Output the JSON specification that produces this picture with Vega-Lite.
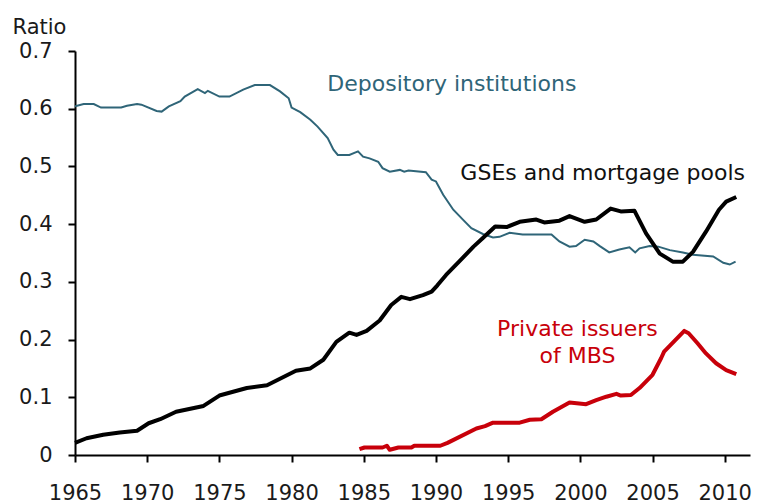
{
  "$schema": "https://vega.github.io/schema/vega-lite/v6.json",
  "width": 675,
  "height": 404,
  "autosize": {"type": "none"},
  "padding": {"left": 75, "top": 51, "right": 20, "bottom": 49},
  "background": "white",
  "config": {
    "view": {"stroke": null},
    "font": "DejaVu Sans",
    "axis": {
      "grid": false,
      "domainColor": "black",
      "domainWidth": 2,
      "tickColor": "black",
      "tickWidth": 2,
      "tickSize": 7,
      "labelFont": "DejaVu Sans",
      "labelFontSize": 21,
      "labelColor": "#1a1a1a"
    }
  },
  "datasets": {
    "lines": [
      {"s": "dep", "year": 1965.0, "value": 0.604},
      {"s": "dep", "year": 1965.6, "value": 0.608},
      {"s": "dep", "year": 1966.3, "value": 0.608},
      {"s": "dep", "year": 1966.8, "value": 0.602},
      {"s": "dep", "year": 1968.2, "value": 0.602},
      {"s": "dep", "year": 1968.6, "value": 0.605},
      {"s": "dep", "year": 1969.3, "value": 0.608},
      {"s": "dep", "year": 1969.6, "value": 0.607},
      {"s": "dep", "year": 1970.65, "value": 0.596},
      {"s": "dep", "year": 1971.0, "value": 0.595},
      {"s": "dep", "year": 1971.5, "value": 0.604},
      {"s": "dep", "year": 1972.3, "value": 0.613},
      {"s": "dep", "year": 1972.6, "value": 0.621},
      {"s": "dep", "year": 1973.5, "value": 0.634},
      {"s": "dep", "year": 1974.0, "value": 0.627},
      {"s": "dep", "year": 1974.2, "value": 0.631},
      {"s": "dep", "year": 1975.0, "value": 0.621},
      {"s": "dep", "year": 1975.7, "value": 0.621},
      {"s": "dep", "year": 1976.65, "value": 0.633},
      {"s": "dep", "year": 1977.45, "value": 0.641},
      {"s": "dep", "year": 1978.5, "value": 0.641},
      {"s": "dep", "year": 1979.2, "value": 0.63},
      {"s": "dep", "year": 1979.8, "value": 0.618},
      {"s": "dep", "year": 1980.0, "value": 0.602},
      {"s": "dep", "year": 1980.6, "value": 0.594},
      {"s": "dep", "year": 1981.3, "value": 0.581},
      {"s": "dep", "year": 1981.8, "value": 0.569},
      {"s": "dep", "year": 1982.5, "value": 0.549},
      {"s": "dep", "year": 1982.9, "value": 0.529},
      {"s": "dep", "year": 1983.2, "value": 0.52},
      {"s": "dep", "year": 1984.0, "value": 0.52},
      {"s": "dep", "year": 1984.6, "value": 0.526},
      {"s": "dep", "year": 1984.95, "value": 0.517},
      {"s": "dep", "year": 1985.4, "value": 0.514},
      {"s": "dep", "year": 1986.0, "value": 0.508},
      {"s": "dep", "year": 1986.3, "value": 0.497},
      {"s": "dep", "year": 1986.8, "value": 0.491},
      {"s": "dep", "year": 1987.5, "value": 0.494},
      {"s": "dep", "year": 1987.8, "value": 0.491},
      {"s": "dep", "year": 1988.1, "value": 0.493},
      {"s": "dep", "year": 1989.3, "value": 0.49},
      {"s": "dep", "year": 1989.7, "value": 0.477},
      {"s": "dep", "year": 1990.0, "value": 0.474},
      {"s": "dep", "year": 1990.5, "value": 0.451},
      {"s": "dep", "year": 1991.2, "value": 0.425},
      {"s": "dep", "year": 1991.9, "value": 0.407},
      {"s": "dep", "year": 1992.45, "value": 0.393},
      {"s": "dep", "year": 1993.25, "value": 0.383},
      {"s": "dep", "year": 1993.95, "value": 0.377},
      {"s": "dep", "year": 1994.4, "value": 0.378},
      {"s": "dep", "year": 1995.1, "value": 0.385},
      {"s": "dep", "year": 1996.0, "value": 0.382},
      {"s": "dep", "year": 1998.0, "value": 0.382},
      {"s": "dep", "year": 1998.55, "value": 0.37},
      {"s": "dep", "year": 1999.25, "value": 0.361},
      {"s": "dep", "year": 1999.7, "value": 0.362},
      {"s": "dep", "year": 2000.3, "value": 0.373},
      {"s": "dep", "year": 2000.9, "value": 0.37},
      {"s": "dep", "year": 2001.35, "value": 0.362},
      {"s": "dep", "year": 2002.0, "value": 0.351},
      {"s": "dep", "year": 2002.7, "value": 0.356},
      {"s": "dep", "year": 2003.4, "value": 0.36},
      {"s": "dep", "year": 2003.8, "value": 0.351},
      {"s": "dep", "year": 2004.1, "value": 0.358},
      {"s": "dep", "year": 2004.8, "value": 0.362},
      {"s": "dep", "year": 2005.4, "value": 0.361},
      {"s": "dep", "year": 2006.2, "value": 0.355},
      {"s": "dep", "year": 2007.1, "value": 0.351},
      {"s": "dep", "year": 2007.8, "value": 0.347},
      {"s": "dep", "year": 2009.2, "value": 0.344},
      {"s": "dep", "year": 2009.9, "value": 0.333},
      {"s": "dep", "year": 2010.35, "value": 0.33},
      {"s": "dep", "year": 2010.75, "value": 0.335},

      {"s": "gse", "year": 1965.0, "value": 0.021},
      {"s": "gse", "year": 1965.8, "value": 0.029},
      {"s": "gse", "year": 1966.95, "value": 0.035},
      {"s": "gse", "year": 1968.1, "value": 0.039},
      {"s": "gse", "year": 1969.3, "value": 0.042},
      {"s": "gse", "year": 1970.1, "value": 0.055},
      {"s": "gse", "year": 1970.9, "value": 0.062},
      {"s": "gse", "year": 1972.0, "value": 0.075},
      {"s": "gse", "year": 1973.9, "value": 0.085},
      {"s": "gse", "year": 1975.0, "value": 0.103},
      {"s": "gse", "year": 1976.9, "value": 0.116},
      {"s": "gse", "year": 1978.3, "value": 0.121},
      {"s": "gse", "year": 1980.3, "value": 0.146},
      {"s": "gse", "year": 1981.3, "value": 0.15},
      {"s": "gse", "year": 1982.2, "value": 0.165},
      {"s": "gse", "year": 1983.1, "value": 0.196},
      {"s": "gse", "year": 1984.0, "value": 0.212},
      {"s": "gse", "year": 1984.5, "value": 0.208},
      {"s": "gse", "year": 1985.2, "value": 0.215},
      {"s": "gse", "year": 1986.1, "value": 0.233},
      {"s": "gse", "year": 1986.9, "value": 0.26},
      {"s": "gse", "year": 1987.6, "value": 0.274},
      {"s": "gse", "year": 1988.2, "value": 0.27},
      {"s": "gse", "year": 1989.1, "value": 0.277},
      {"s": "gse", "year": 1989.7, "value": 0.283},
      {"s": "gse", "year": 1990.1, "value": 0.294},
      {"s": "gse", "year": 1990.7, "value": 0.312},
      {"s": "gse", "year": 1991.6, "value": 0.335},
      {"s": "gse", "year": 1992.6, "value": 0.361},
      {"s": "gse", "year": 1993.25, "value": 0.376},
      {"s": "gse", "year": 1994.1, "value": 0.396},
      {"s": "gse", "year": 1994.9, "value": 0.395},
      {"s": "gse", "year": 1995.8, "value": 0.404},
      {"s": "gse", "year": 1996.95, "value": 0.408},
      {"s": "gse", "year": 1997.5, "value": 0.403},
      {"s": "gse", "year": 1998.55, "value": 0.406},
      {"s": "gse", "year": 1999.25, "value": 0.414},
      {"s": "gse", "year": 2000.3, "value": 0.404},
      {"s": "gse", "year": 2001.1, "value": 0.408},
      {"s": "gse", "year": 2002.1, "value": 0.427},
      {"s": "gse", "year": 2002.8, "value": 0.422},
      {"s": "gse", "year": 2003.75, "value": 0.423},
      {"s": "gse", "year": 2004.55, "value": 0.384},
      {"s": "gse", "year": 2005.5, "value": 0.349},
      {"s": "gse", "year": 2006.4, "value": 0.335},
      {"s": "gse", "year": 2007.1, "value": 0.335},
      {"s": "gse", "year": 2007.8, "value": 0.352},
      {"s": "gse", "year": 2008.7, "value": 0.387},
      {"s": "gse", "year": 2009.6, "value": 0.425},
      {"s": "gse", "year": 2010.1, "value": 0.439},
      {"s": "gse", "year": 2010.8, "value": 0.447},

      {"s": "pvt", "year": 1984.7, "value": 0.01},
      {"s": "pvt", "year": 1985.05, "value": 0.013},
      {"s": "pvt", "year": 1986.3, "value": 0.013},
      {"s": "pvt", "year": 1986.6, "value": 0.016},
      {"s": "pvt", "year": 1986.8, "value": 0.009},
      {"s": "pvt", "year": 1987.4, "value": 0.013},
      {"s": "pvt", "year": 1988.3, "value": 0.013},
      {"s": "pvt", "year": 1988.5, "value": 0.016},
      {"s": "pvt", "year": 1990.3, "value": 0.016},
      {"s": "pvt", "year": 1990.8, "value": 0.021},
      {"s": "pvt", "year": 1992.8, "value": 0.046},
      {"s": "pvt", "year": 1993.4, "value": 0.05},
      {"s": "pvt", "year": 1993.95, "value": 0.056},
      {"s": "pvt", "year": 1995.8, "value": 0.056},
      {"s": "pvt", "year": 1996.5, "value": 0.061},
      {"s": "pvt", "year": 1997.3, "value": 0.062},
      {"s": "pvt", "year": 1998.1, "value": 0.075},
      {"s": "pvt", "year": 1999.25, "value": 0.091},
      {"s": "pvt", "year": 2000.4, "value": 0.088},
      {"s": "pvt", "year": 2001.1, "value": 0.095},
      {"s": "pvt", "year": 2001.8, "value": 0.101},
      {"s": "pvt", "year": 2002.5, "value": 0.106},
      {"s": "pvt", "year": 2002.8, "value": 0.103},
      {"s": "pvt", "year": 2003.5, "value": 0.104},
      {"s": "pvt", "year": 2004.1, "value": 0.116},
      {"s": "pvt", "year": 2005.0, "value": 0.139},
      {"s": "pvt", "year": 2005.6, "value": 0.168},
      {"s": "pvt", "year": 2005.8, "value": 0.179},
      {"s": "pvt", "year": 2007.2, "value": 0.215},
      {"s": "pvt", "year": 2007.5, "value": 0.211},
      {"s": "pvt", "year": 2008.1, "value": 0.194},
      {"s": "pvt", "year": 2008.7, "value": 0.176},
      {"s": "pvt", "year": 2009.4, "value": 0.159},
      {"s": "pvt", "year": 2010.1, "value": 0.147},
      {"s": "pvt", "year": 2010.8, "value": 0.14}
    ],
    "labels": [
      {"s": "dep", "year": 1991.1, "value": 0.642, "text": "Depository institutions"},
      {"s": "gse", "year": 2001.55, "value": 0.489, "text": "GSEs and mortgage pools"},
      {"s": "pvt", "year": 1999.8, "value": 0.218, "text": "Private issuers"},
      {"s": "pvt", "year": 1999.8, "value": 0.171, "text": "of MBS"}
    ]
  },
  "layer": [
    {
      "data": {"name": "lines"},
      "transform": [{"filter": "datum.s === 'dep'"}],
      "mark": {"type": "line", "strokeWidth": 2, "color": "#2f6578", "clip": true},
      "encoding": {
        "x": {
          "field": "year", "type": "quantitative",
          "scale": {"domain": [1965, 2011.75], "nice": false, "zero": false},
          "axis": {
            "title": null, "values": [1965, 1970, 1975, 1980, 1985, 1990, 1995, 2000, 2005, 2010],
            "format": "d", "labelPadding": 20, "labelFlush": false
          }
        },
        "y": {
          "field": "value", "type": "quantitative",
          "scale": {"domain": [0, 0.7], "nice": false},
          "axis": {
            "title": "Ratio", "titleAngle": 0, "titleAlign": "left", "titleBaseline": "alphabetic",
            "titleX": -63, "titleY": -18, "titleFont": "DejaVu Sans", "titleFontSize": 21,
            "titleFontWeight": "normal", "titleColor": "#1a1a1a",
            "values": [0, 0.1, 0.2, 0.3, 0.4, 0.5, 0.6, 0.7], "format": "~g",
            "labelPadding": 16, "labelFlush": false
          }
        }
      }
    },
    {
      "data": {"name": "lines"},
      "transform": [{"filter": "datum.s === 'gse'"}],
      "mark": {"type": "line", "strokeWidth": 4, "color": "#000000", "strokeJoin": "round"},
      "encoding": {
        "x": {"field": "year", "type": "quantitative"},
        "y": {"field": "value", "type": "quantitative"}
      }
    },
    {
      "data": {"name": "lines"},
      "transform": [{"filter": "datum.s === 'pvt'"}],
      "mark": {"type": "line", "strokeWidth": 4, "color": "#c8000a", "strokeJoin": "round"},
      "encoding": {
        "x": {"field": "year", "type": "quantitative"},
        "y": {"field": "value", "type": "quantitative"}
      }
    },
    {
      "data": {"name": "labels"},
      "mark": {"type": "text", "font": "DejaVu Sans", "fontSize": 22, "align": "center", "baseline": "middle"},
      "encoding": {
        "x": {"field": "year", "type": "quantitative"},
        "y": {"field": "value", "type": "quantitative"},
        "text": {"field": "text"},
        "color": {
          "field": "s", "type": "nominal", "legend": null,
          "scale": {"domain": ["dep", "gse", "pvt"], "range": ["#2f6578", "#111111", "#c8000a"]}
        }
      }
    }
  ]
}
